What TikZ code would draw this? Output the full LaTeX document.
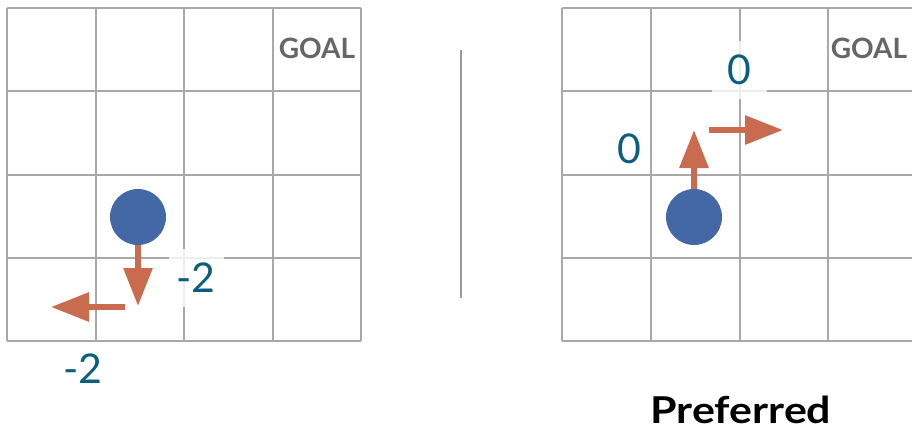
\documentclass[tikz,border=0pt]{standalone}
\usepackage{fontspec}
\setmainfont{Lato}
\usetikzlibrary{arrows.meta}

\definecolor{gridgray}{HTML}{A8A8A8}
\definecolor{agentblue}{HTML}{4468A6}
\definecolor{movered}{HTML}{C86B4E}
\definecolor{rewardteal}{HTML}{0B5F7E}
\definecolor{goalgray}{HTML}{666666}

\tikzset{
  cell/.style={draw=gridgray, line width=2pt},
  agent/.style={circle, fill=agentblue, minimum size=56pt, inner sep=0pt},
  move/.style={draw=movered, line width=6pt, -{Triangle[width=28pt,length=38pt]}},
  reward/.style={text=rewardteal, font=\fontsize{41}{41}\selectfont, inner sep=0pt},
  masked/.style={fill=white, fill opacity=0.8, text opacity=1, minimum width=55pt, minimum height=58pt},
  goal/.style={text=goalgray, font=\bfseries\fontsize{28}{28}\selectfont},
}

\begin{document}
\begin{tikzpicture}[x=1pt, y=-1pt]
    \useasboundingbox (0,0) rectangle (912,428);
    \clip (0,0) rectangle (912,428);

    % Left grid world
    \foreach \gx in {7,95.5,184,272.5,361} \draw[cell] (\gx,8) -- (\gx,341);
    \foreach \gy in {8,91.25,174.5,257.75,341} \draw[cell] (7,\gy) -- (361,\gy);
    \node[goal] (goalL) at (317,48) {GOAL};

    % Left agent and its moves
    \node[agent] (agentL) at (138,217) {};
    \coordinate (downL) at (138,306);
    \coordinate (leftS) at (125,307);
    \coordinate (leftT) at (51,307);
    \draw[move] (agentL.south) -- (downL);
    \draw[move] (leftS) -- (leftT);
    \node[reward, masked] (rDown) at (196,278) {-2};
    \node[reward] (rLeft) at (83,369) {-2};

    % Divider
    \coordinate (divTop) at (461,50);
    \coordinate (divBot) at (461,298);
    \draw[gray!80, line width=1.5pt] (divTop) -- (divBot);

    % Right grid world
    \foreach \gx in {562,650.75,739.5,828.25,917} \draw[cell] (\gx,8) -- (\gx,341);
    \foreach \gy in {8,91.25,174.5,257.75,341} \draw[cell] (562,\gy) -- (917,\gy);
    \node[goal] (goalR) at (869,48) {GOAL};

    % Right agent and its moves
    \node[agent] (agentR) at (694,217) {};
    \coordinate (upR) at (694,130);
    \coordinate (rightS) at (709,130);
    \coordinate (rightT) at (783,130);
    \draw[move] (agentR.north) -- (upR);
    \draw[move] (rightS) -- (rightT);
    \node[reward] (rUp) at (629,149) {0};
    \node[reward, masked] (rRight) at (739,70) {0};

    % Caption
    \node[anchor=base, inner sep=0pt, font=\bfseries\fontsize{37}{37}\selectfont] (pref) at (741,423) {\scalebox{1.16}[1]{Preferred}};
\end{tikzpicture}
\end{document}
